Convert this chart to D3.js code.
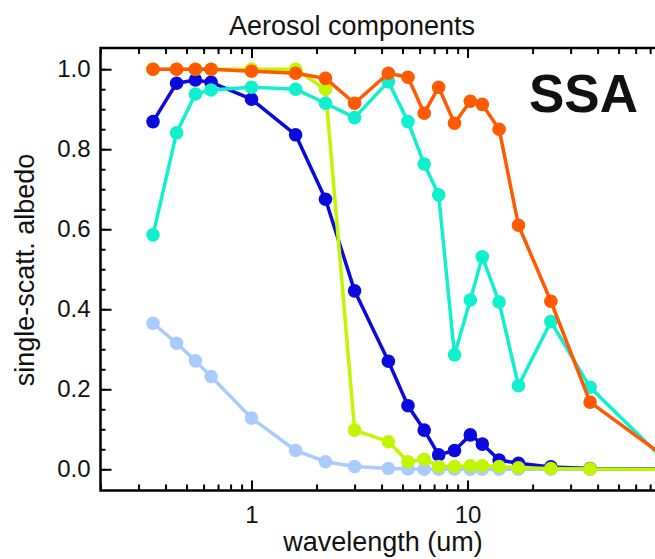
<!DOCTYPE html>
<html lang="en">
<head>
    <meta charset="UTF-8">
    <title>Aerosol components - SSA</title>
    <script src="https://d3js.org/d3.v7.min.js"></script>
    <style>
        body { margin: 0; background: #fff; overflow: hidden; }
        text { font-family: "Liberation Sans", Arial, sans-serif; fill: #111; }
        .axis path.domain { display: none; }
        .axis line { stroke: #000; stroke-width: 2; }
        .series { fill: none; stroke-width: 3.5; stroke-linejoin: round; }
    </style>
</head>
<body>
<div id="chart"></div>
<script>
    // wavelengths (um) shared by every component
    const wavelength = [0.35, 0.45, 0.55, 0.65, 1.0, 1.6, 2.2, 3.0, 4.3, 5.3, 6.3, 7.35, 8.7, 10.3, 11.7, 14.0, 17.2, 24.3, 36.9, 90];

    // single-scattering albedo per component
    const lightBlue = [0.365, 0.315, 0.271, 0.232, 0.128, 0.047, 0.019, 0.007, 0.002, 0.001, 0.0, 0.0, 0.0, 0.0, 0.0, 0.0, 0.0, 0.0, 0.0, 0.0];
    const blue      = [0.869, 0.965, 0.973, 0.967, 0.925, 0.836, 0.675, 0.446, 0.27, 0.159, 0.098, 0.036, 0.047, 0.086, 0.063, 0.023, 0.015, 0.006, 0.002, 0.0];
    const yellow    = [1.0, 1.0, 1.0, 1.0, 1.0, 1.0, 0.95, 0.098, 0.069, 0.019, 0.025, 0.007, 0.007, 0.009, 0.009, 0.007, 0.004, 0.002, 0.001, 0.0];
    const cyan      = [0.586, 0.841, 0.938, 0.948, 0.955, 0.95, 0.915, 0.879, 0.969, 0.869, 0.763, 0.686, 0.286, 0.423, 0.531, 0.418, 0.209, 0.369, 0.205, 0.0];
    const orange    = [1.0, 1.0, 1.0, 1.0, 0.995, 0.99, 0.977, 0.915, 0.99, 0.98, 0.89, 0.955, 0.865, 0.92, 0.912, 0.85, 0.61, 0.42, 0.168, 0.015];

    const seriesNames = ["lightBlue", "blue", "yellow", "cyan", "orange"];
    const seriesValues = [lightBlue, blue, yellow, cyan, orange];
    const seriesColors = ["#a9cbff", "#0a0ade", "#c2f500", "#10f0cf", "#ff5a00"];

    const xMajor = [1, 10, 100];
    const xLabels = [1, 10];
    const xMinor = [0.2, 0.3, 0.4, 0.5, 0.6, 0.7, 0.8, 0.9, 2, 3, 4, 5, 6, 7, 8, 9, 20, 30, 40, 50, 60, 70, 80, 90];
    const yMajor = [0.0, 0.2, 0.4, 0.6, 0.8, 1.0];
    const yMinor = d3.range(0, 1.001, 0.05);

    const width = 655, height = 559;
    const margin = {left: 100.5, top: 48, bottom: 490.5};

    const svg = d3.select("#chart").append("svg")
        .attr("width", width)
        .attr("height", height);

    const x = d3.scaleLog().domain([0.2, 100]).range([margin.left, 683.6]);
    const y = d3.scaleLinear().domain([-0.053, 1.053]).range([margin.bottom, margin.top]);

    // lines + markers
    const line = d3.line()
        .x((d, i) => x(wavelength[i]))
        .y(d => y(d));

    seriesValues.forEach((vals, k) => {
        const g = svg.append("g").attr("class", "s-" + seriesNames[k]);
        g.append("path")
            .datum(vals)
            .attr("class", "series")
            .attr("stroke", seriesColors[k])
            .attr("d", line);
        g.selectAll("circle")
            .data(vals)
            .enter().append("circle")
            .attr("cx", (d, i) => x(wavelength[i]))
            .attr("cy", d => y(d))
            .attr("r", 6.8)
            .attr("fill", seriesColors[k]);
    });

    // axes, ticks pointing inward
    svg.append("g").attr("class", "axis")
        .attr("transform", "translate(0," + margin.bottom + ")")
        .call(d3.axisBottom(x).tickValues(xLabels).tickSizeInner(-10).tickSizeOuter(0)
            .tickPadding(15).tickFormat(d3.format("d")))
        .selectAll("text").style("font-size", "24px").attr("fill", "#111");
    svg.append("g").attr("class", "axis")
        .attr("transform", "translate(0," + margin.bottom + ")")
        .call(d3.axisBottom(x).tickValues(xMinor).tickSizeInner(-6).tickSizeOuter(0).tickFormat(""));
    svg.append("g").attr("class", "axis")
        .attr("transform", "translate(0," + margin.top + ")")
        .call(d3.axisTop(x).tickValues(xMajor).tickSizeInner(-10).tickSizeOuter(0).tickFormat(""));
    svg.append("g").attr("class", "axis")
        .attr("transform", "translate(0," + margin.top + ")")
        .call(d3.axisTop(x).tickValues(xMinor).tickSizeInner(-6).tickSizeOuter(0).tickFormat(""));

    svg.append("g").attr("class", "axis")
        .attr("transform", "translate(" + margin.left + ",0)")
        .call(d3.axisLeft(y).tickValues(yMajor).tickSizeInner(-11).tickSizeOuter(0)
            .tickPadding(10).tickFormat(d3.format(".1f")))
        .selectAll("text").style("font-size", "24px").attr("fill", "#111");
    svg.append("g").attr("class", "axis")
        .attr("transform", "translate(" + margin.left + ",0)")
        .call(d3.axisLeft(y).tickValues(yMinor).tickSizeInner(-5).tickSizeOuter(0).tickFormat(""));

    // frame
    svg.append("rect")
        .attr("x", margin.left)
        .attr("y", margin.top)
        .attr("width", 683.6 - margin.left)
        .attr("height", margin.bottom - margin.top)
        .attr("fill", "none")
        .attr("stroke", "#000")
        .attr("stroke-width", 2.5);

    // labels
    svg.append("text")
        .attr("x", 352).attr("y", 35)
        .attr("text-anchor", "middle")
        .style("font-size", "27px")
        .text("Aerosol components");

    svg.append("text")
        .attr("x", 383).attr("y", 551)
        .attr("text-anchor", "middle")
        .style("font-size", "27px")
        .text("wavelength (um)");

    svg.append("text")
        .attr("transform", "translate(34,270) rotate(-90)")
        .attr("text-anchor", "middle")
        .style("font-size", "27px")
        .text("single-scatt. albedo");

    svg.append("text")
        .attr("x", 638).attr("y", 112)
        .attr("text-anchor", "end")
        .style("font-size", "53px")
        .style("font-weight", "bold")
        .attr("fill", "#000")
        .text("SSA");
</script>
</body>
</html>
